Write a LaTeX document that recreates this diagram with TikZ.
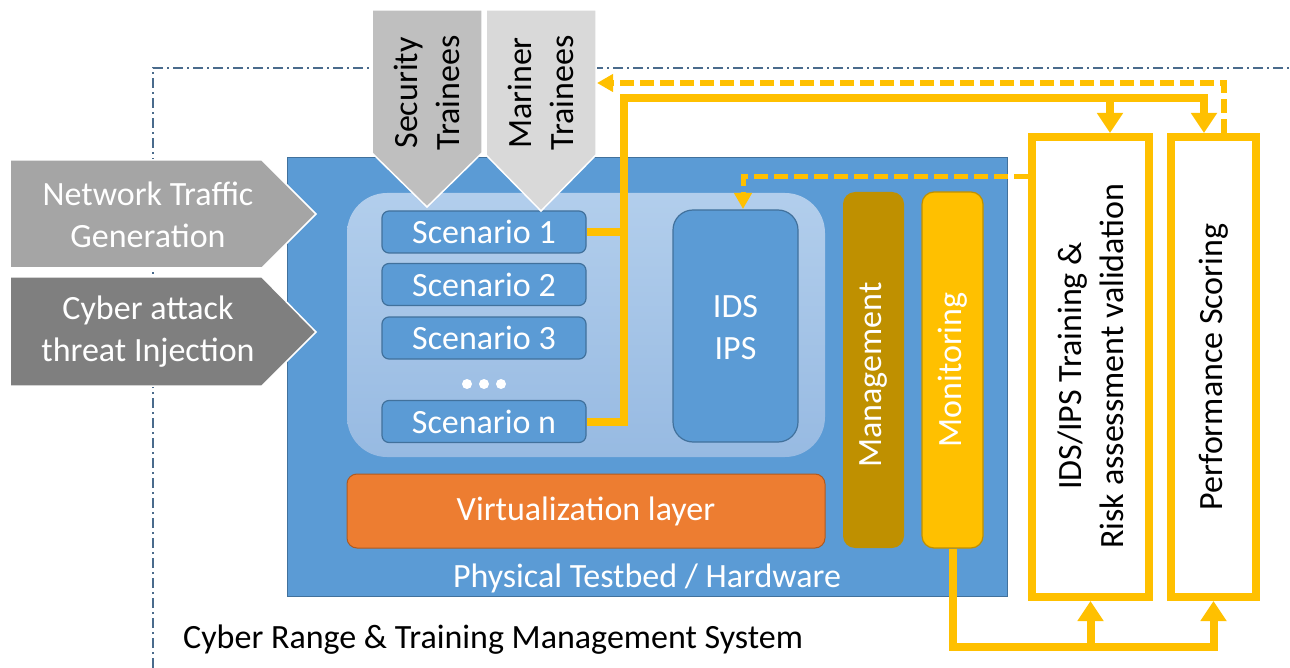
\documentclass[tikz,border=0pt]{standalone}
\usepackage{fontspec}
\setmainfont{Carlito}
\usetikzlibrary{arrows.meta}
\definecolor{blu}{HTML}{5B9BD5}
\definecolor{bluD}{HTML}{41719C}
\definecolor{ylw}{HTML}{FFC000}
\definecolor{gold}{HTML}{BF9000}
\definecolor{orng}{HTML}{ED7D31}
\definecolor{orngD}{HTML}{AE5A21}
\definecolor{grA}{HTML}{A5A5A5}
\definecolor{grB}{HTML}{7F7F7F}
\definecolor{grC}{HTML}{BFBFBF}
\definecolor{grD}{HTML}{D9D9D9}
\definecolor{innerT}{HTML}{B2CEEC}
\definecolor{innerB}{HTML}{97BAE2}
\definecolor{framec}{HTML}{4A6B8C}
\begin{document}
\begin{tikzpicture}[x=1pt,y=-1pt,
  every node/.style={font=\fontsize{34}{42}\selectfont},
  whitetxt/.style={text=white, align=center, inner sep=0pt},
  blacktxt/.style={text=black, align=center, inner sep=0pt},
  scen/.style={draw=bluD, line width=1.2pt, fill=blu, rounded corners=7pt,
     minimum width=204pt, minimum height=42pt, text=white, inner sep=0pt},
  pill/.style={rounded corners=12pt, minimum width=61pt, minimum height=356pt, inner sep=0pt},
  ybox/.style={draw=ylw, line width=8pt, fill=white, inner sep=0pt},
  yline/.style={draw=ylw, line width=8pt},
  ydash/.style={draw=ylw, line width=6pt, dash pattern=on 14pt off 6pt},
  ydashs/.style={draw=ylw, line width=5pt, dash pattern=on 14pt off 6pt},
  bigtip/.style={-{Triangle[length=20pt,width=25pt]}},
  midtip/.style={-{Triangle[length=16pt,width=17pt]}},
  chev/.style={draw=white, line width=1.5pt},
]
\useasboundingbox (0,0) rectangle (1290,668);

% frame of the management system
\draw[framec, line width=1.8pt, dash pattern=on 10pt off 4pt on 2pt off 4pt]
  (153,668) -- (153,68) -- (1290,68);

% physical testbed
\node[draw=bluD, line width=1pt, fill=blu, minimum width=720pt, minimum height=439pt, inner sep=0pt] (hw) at (647,377) {};
\node[whitetxt] (hwt) at (647,578) {Physical Testbed / Hardware};

% inner scenario area
\node[rounded corners=40pt, top color=innerT, bottom color=innerB, minimum width=478pt, minimum height=264pt, inner sep=0pt] (inner) at (586,325) {};

% scenarios
\node[scen] (s1) at (484,232) {Scenario 1};
\node[scen] (s2) at (484,284.5) {Scenario 2};
\node[scen] (s3) at (484,338) {Scenario 3};
\node[scen] (sn) at (484,421.5) {Scenario n};
\foreach \xx/\nm in {467/d1,484/d2,501/d3}
  \node[circle, fill=white, minimum size=10pt, inner sep=0pt] (\nm) at (\xx,384) {};

% IDS / IPS
\node[draw=bluD, line width=1.2pt, fill=blu, rounded corners=20pt, minimum width=125pt, minimum height=232pt, inner sep=0pt] (ids) at (735.5,326) {};
\node[whitetxt] (idst) at (735.5,328) {IDS\\IPS};

% management / monitoring
\node[pill, fill=gold] (mgmt) at (873.5,370) {};
\node[whitetxt, rotate=90] (mgmtt) at (873.5,375) {Management};
\node[pill, fill=ylw, draw=gold, line width=1.2pt] (mon) at (952.5,370) {};
\node[whitetxt, rotate=90] (mont) at (952.5,370) {Monitoring};

% virtualization layer
\node[draw=orngD, line width=1pt, fill=orng, rounded corners=10pt, minimum width=478pt, minimum height=74pt, inner sep=0pt] (virt) at (586,511) {};
\node[whitetxt] (virtt) at (586,511) {Virtualization layer};

% left chevrons
\path[chev, fill=grA] (10,160) -- (262,160) -- (316,214) -- (262,268) -- (10,268) -- cycle;
\node[whitetxt] (ntg) at (148,215) {Network Traffic\\Generation};
\path[chev, fill=grB] (10,277) -- (262,277) -- (316,332) -- (262,386) -- (10,386) -- cycle;
\node[whitetxt] (cat) at (148,332) {Cyber attack\\threat Injection};

% trainee chevrons
\path[chev, fill=grC] (372,10) -- (482,10) -- (482,153) -- (427,207) -- (372,153) -- cycle;
\node[blacktxt, rotate=90] (sec) at (427,93) {Security\\Trainees};
\path[chev, fill=grD] (486,10) -- (596,10) -- (596,155) -- (541,211) -- (486,155) -- cycle;
\node[blacktxt, rotate=90] (mar) at (541,93) {Mariner\\Trainees};

% right boxes
\node[ybox, minimum width=117pt, minimum height=460pt] (train) at (1090.5,367) {};
\node[blacktxt, rotate=90] (traint) at (1091,366) {IDS/IPS Training \&\\Risk assessment validation};
\node[ybox, minimum width=85pt, minimum height=460pt] (perf) at (1213.5,367) {};
\node[blacktxt, rotate=90] (perft) at (1214,367) {Performance Scoring};

% label of the frame
\node[blacktxt, anchor=west] (crt) at (183,640) {Cyber Range \& Training Management System};

% top solid connector
\coordinate (jc) at (624,98);
\coordinate (pa) at (1204,133);
\coordinate (tb) at (1110,98);
\coordinate (ta) at (1110,133);
\draw[yline] (s1.east) -- (s1.east -| jc);
\draw[yline, bigtip] (sn.east) -| (jc) -| (pa);
\draw[yline, bigtip] (tb) -- (ta);

% top dashed connector (feedback to trainees)
\coordinate (pd) at (1224,133);
\coordinate (md) at (597,83);
\draw[ydash, midtip] (pd) |- (md);

% dashed connector into IDS
\coordinate (ti) at (1028,177);
\coordinate (ia) at (743,209);
\draw[ydashs, midtip] (ti) -| (ia);

% bottom connector from monitoring
\coordinate (bj) at (1213.5,647);
\coordinate (bi) at (1090.5,647);
\draw[yline, bigtip, line join=miter] (mon.south) |- (bj) -- (perf.south);
\draw[yline, bigtip] (bi) -- (train.south);
\end{tikzpicture}
\end{document}
